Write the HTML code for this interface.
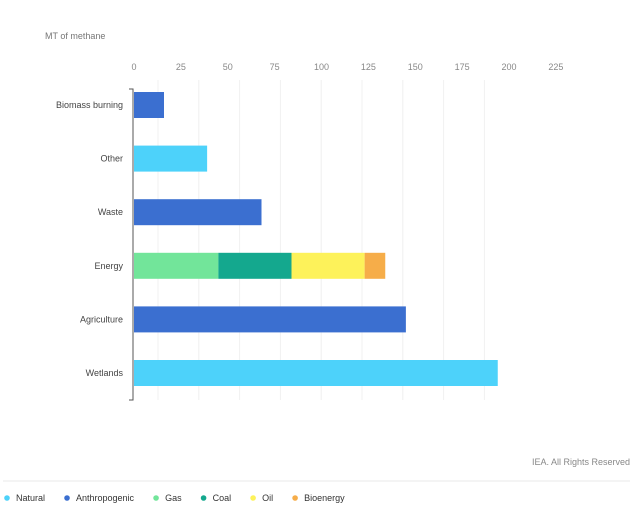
<!DOCTYPE html>
<html><head><meta charset="utf-8"><style>
body{margin:0;width:640px;height:507px;background:#fff;font-family:"Liberation Sans",sans-serif;overflow:hidden}
text{font-family:"Liberation Sans",sans-serif}
</style></head><body>
<svg id="c" width="640" height="507">
<text x="45" y="39" font-size="9" fill="#777">MT of methane</text>
<text x="630" y="465" font-size="9" fill="#888" text-anchor="end">IEA. All Rights Reserved</text>
<line x1="3" y1="481" x2="630" y2="481" stroke="#e8e8e8"/>
</svg>
<script>
const categories=["Biomass burning","Other","Waste","Energy","Agriculture","Wetlands"];
const ticks=[0,25,50,75,100,125,150,175,200,225];
const seriesNames=["Natural","Anthropogenic","Gas","Coal","Oil","Bioenergy"];
const colors=["#4dd2fa","#3b6fd0","#72e59a","#14a88e","#fdf25a","#f6ad49"];
const natural=[0,39,0,0,0,194];
const anthropogenic=[16,0,68,0,145,0];
const gas=[0,0,0,45,0,0];
const coal=[0,0,0,39,0,0];
const oil=[0,0,0,39,0,0];
const bioenergy=[0,0,0,11,0,0];
const series=[natural,anthropogenic,gas,coal,oil,bioenergy];
const svg=document.getElementById('c');const NS='http://www.w3.org/2000/svg';
const x=v=>134+v*1.875;const y=i=>105+i*53.6;
function mk(t,a){const e=document.createElementNS(NS,t);for(const k in a)e.setAttribute(k,a[k]);svg.appendChild(e);return e;}
for(let k=0;k<9;k++){const g=mk('line',{x1:158+k*40.8,x2:158+k*40.8,y1:80,y2:400,stroke:'#f0f0f0'});

}
ticks.forEach(t=>{const e=mk('text',{x:x(t),y:70,'font-size':9,fill:'#888','text-anchor':'middle'});e.textContent=t;

});
const ax=mk('path',{d:'M129 89H133V400H129',fill:'none',stroke:'#555'});


categories.forEach((c,i)=>{const l=mk('text',{x:123,y:y(i)+3,'font-size':9,fill:'#444','text-anchor':'end'});l.textContent=c;


let acc=0;series.forEach((s,j)=>{if(s[i]>0){const r=mk('rect',{x:x(acc),y:y(i)-13,width:x(acc+s[i])-x(acc),height:26,fill:colors[j]});

acc+=s[i];}});});
let lx=4;seriesNames.forEach((n,j)=>{const c=mk('circle',{cx:lx+3,cy:498,r:2.8,fill:colors[j]});


const t=mk('text',{x:lx+12,y:501,'font-size':9,fill:'#333'});t.textContent=n;


lx+=12+t.getComputedTextLength()+19;});
</script>
</body></html>
